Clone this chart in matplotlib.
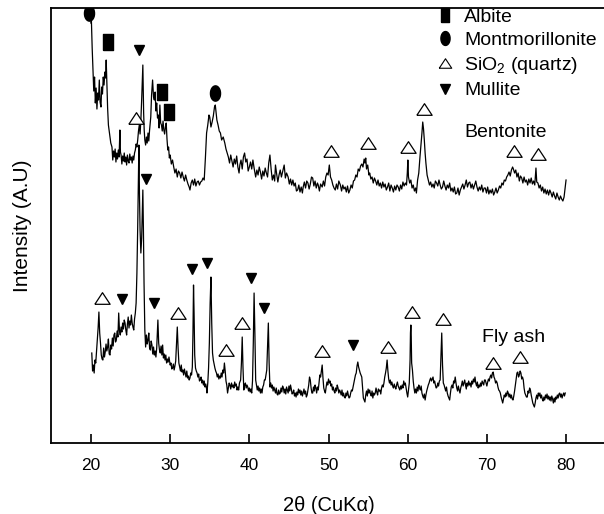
import numpy as np
import matplotlib
matplotlib.use("Agg")
import matplotlib.pyplot as plt
from matplotlib.lines import Line2D

plt.rcParams['font.family'] = ['Liberation Sans', 'DejaVu Sans']
plt.rcParams['mathtext.fontset'] = 'custom'
plt.rcParams['mathtext.rm'] = 'Liberation Sans'
plt.rcParams['mathtext.it'] = 'Liberation Sans'

# ---- data (2theta in degrees, intensity in arbitrary units) ----
bent_2theta = [
    20.00, 20.05, 20.15, 20.25, 20.35, 20.45, 20.55, 20.65, 20.75, 20.85, 20.95, 21.05, 21.15, 21.26,
    21.35, 21.45, 21.55, 21.65, 21.75, 21.85, 21.92, 22.00, 22.10, 22.20, 22.35, 22.50, 22.65, 22.75,
    22.85, 22.95, 23.05, 23.15, 23.25, 23.35, 23.45, 23.55, 23.65, 23.72, 23.80, 23.90, 24.00, 24.10,
    24.20, 24.30, 24.40, 24.50, 24.60, 24.70, 24.80, 24.90, 25.00, 25.10, 25.20, 25.30, 25.40, 25.50,
    25.60, 25.70, 25.80, 25.90, 26.00, 26.10, 26.20, 26.30, 26.40, 26.55, 26.65, 26.72, 26.80, 26.90,
    27.00, 27.10, 27.20, 27.30, 27.40, 27.55, 27.65, 27.78, 27.90, 28.00, 28.10, 28.20, 28.30, 28.40,
    28.50, 28.60, 28.70, 28.80, 28.90, 29.00, 29.10, 29.20, 29.30, 29.40, 29.50, 29.60, 29.70, 29.80,
    29.90, 30.00, 30.15, 30.30, 30.45, 30.60, 30.75, 30.90, 31.05, 31.20, 31.35, 31.50, 31.65, 31.80,
    31.95, 32.10, 32.25, 32.40, 32.50, 32.65, 32.80, 32.95, 33.10, 33.25, 33.40, 33.55, 33.70, 33.85,
    34.00, 34.15, 34.30, 34.45, 34.60, 34.75, 34.90, 35.00, 35.15, 35.30, 35.45, 35.60, 35.70, 35.80,
    35.90, 36.05, 36.20, 36.35, 36.50, 36.70, 36.90, 37.05, 37.20, 37.35, 37.50, 37.65, 37.80, 37.95,
    38.10, 38.25, 38.40, 38.55, 38.70, 38.80, 38.95, 39.10, 39.25, 39.40, 39.55, 39.70, 39.85, 40.00,
    40.15, 40.30, 40.45, 40.60, 40.80, 40.95, 41.10, 41.25, 41.40, 41.55, 41.70, 41.85, 42.00, 42.15,
    42.30, 42.45, 42.60, 42.75, 42.90, 43.05, 43.20, 43.30, 43.45, 43.60, 43.75, 43.90, 44.05, 44.20,
    44.40, 44.55, 44.70, 44.90, 45.05, 45.20, 45.35, 45.50, 45.65, 45.80, 45.95, 46.10, 46.25, 46.40,
    46.55, 46.70, 46.80, 46.95, 47.10, 47.25, 47.40, 47.55, 47.70, 47.85, 48.00, 48.15, 48.30, 48.45,
    48.60, 48.70, 48.85, 49.00, 49.20, 49.35, 49.50, 49.65, 49.80, 49.95, 50.10, 50.25, 50.40, 50.55,
    50.70, 50.85, 51.00, 51.15, 51.30, 51.50, 51.65, 51.80, 51.95, 52.10, 52.25, 52.40, 52.55, 52.70,
    52.85, 53.00, 53.15, 53.30, 53.45, 53.60, 53.75, 53.90, 54.05, 54.20, 54.35, 54.50, 54.60, 54.70,
    54.80, 54.95, 55.10, 55.20, 55.35, 55.50, 55.65, 55.80, 55.95, 56.10, 56.25, 56.40, 56.55, 56.70,
    56.85, 57.00, 57.15, 57.30, 57.45, 57.60, 57.75, 57.90, 58.05, 58.20, 58.35, 58.50, 58.65, 58.80,
    58.95, 59.10, 59.25, 59.40, 59.55, 59.70, 59.85, 59.95, 60.02, 60.10, 60.25, 60.40, 60.55, 60.70,
    60.85, 61.00, 61.10, 61.25, 61.40, 61.55, 61.70, 61.80, 61.90, 62.00, 62.10, 62.20, 62.30, 62.45,
    62.60, 62.75, 62.90, 63.05, 63.20, 63.35, 63.50, 63.65, 63.80, 63.95, 64.10, 64.25, 64.40, 64.55,
    64.70, 64.85, 65.00, 65.15, 65.30, 65.45, 65.60, 65.75, 65.90, 66.05, 66.20, 66.35, 66.50, 66.65,
    66.80, 66.95, 67.10, 67.25, 67.40, 67.55, 67.70, 67.85, 68.00, 68.15, 68.30, 68.45, 68.60, 68.75,
    68.90, 69.05, 69.20, 69.35, 69.50, 69.65, 69.80, 69.95, 70.10, 70.25, 70.40, 70.55, 70.70, 70.85,
    71.00, 71.15, 71.30, 71.45, 71.60, 71.75, 71.90, 72.05, 72.20, 72.35, 72.50, 72.65, 72.80, 72.95,
    73.10, 73.25, 73.35, 73.50, 73.65, 73.80, 73.95, 74.10, 74.25, 74.40, 74.55, 74.70, 74.85, 75.00,
    75.15, 75.30, 75.45, 75.60, 75.75, 75.90, 76.05, 76.20, 76.30, 76.45, 76.60, 76.75, 76.90, 77.05,
    77.20, 77.35, 77.50, 77.65, 77.80, 77.95, 78.10, 78.25, 78.40, 78.55, 78.70, 78.85, 79.00, 79.15,
    79.30, 79.45, 79.60, 79.75, 79.90, 80.00]
bent_intensity = [
    420, 423, 395, 373, 352, 366, 340, 355, 334, 350, 343, 363, 341, 336,
    356, 349, 366, 358, 371, 365, 383, 363, 335, 318, 309, 300, 296, 283,
    292, 286, 294, 281, 290, 284, 293, 286, 313, 291, 288, 279, 287, 282,
    290, 281, 286, 278, 288, 282, 280, 289, 283, 286, 280, 287, 283, 290,
    293, 299, 296, 303, 312, 318, 309, 323, 343, 378, 330, 313, 303, 298,
    306, 300, 310, 302, 313, 326, 348, 363, 346, 343, 351, 332, 340, 325,
    328, 315, 338, 320, 318, 312, 322, 313, 309, 316, 320, 304, 293, 296,
    285, 288, 279, 283, 276, 270, 274, 266, 272, 270, 265, 271, 266, 262,
    268, 263, 259, 256, 253, 260, 263, 258, 264, 257, 261, 262, 258, 261,
    262, 265, 263, 285, 310, 318, 328, 326, 316, 321, 327, 336, 338, 330,
    323, 318, 312, 310, 303, 306, 300, 294, 290, 286, 280, 288, 282, 276,
    284, 279, 287, 276, 270, 278, 283, 274, 286, 290, 281, 284, 272, 276,
    281, 274, 283, 275, 266, 273, 268, 276, 271, 264, 272, 267, 275, 270,
    266, 280, 288, 274, 263, 268, 262, 278, 269, 261, 268, 273, 266, 271,
    278, 265, 270, 266, 259, 264, 258, 263, 257, 260, 252, 253, 258, 251,
    256, 250, 256, 261, 255, 262, 260, 254, 259, 266, 265, 257, 262, 255,
    260, 258, 252, 259, 256, 262, 257, 266, 270, 268, 278, 266, 263, 258,
    255, 253, 259, 254, 262, 258, 252, 258, 254, 256, 251, 257, 250, 253,
    258, 255, 262, 263, 268, 266, 274, 272, 277, 279, 276, 284, 280, 285,
    274, 278, 268, 270, 264, 266, 260, 265, 262, 258, 263, 257, 260, 255,
    261, 256, 259, 253, 256, 260, 252, 258, 255, 251, 257, 253, 258, 256,
    252, 258, 254, 261, 257, 260, 258, 270, 283, 266, 260, 263, 255, 258,
    252, 255, 250, 263, 270, 286, 300, 310, 321, 314, 303, 290, 280, 268,
    263, 258, 261, 256, 259, 255, 262, 260, 257, 263, 258, 254, 256, 262,
    257, 253, 258, 255, 260, 252, 255, 251, 256, 249, 250, 255, 248, 253,
    256, 259, 254, 258, 263, 256, 260, 261, 255, 259, 254, 258, 262, 256,
    252, 256, 253, 258, 251, 255, 255, 250, 256, 249, 253, 250, 254, 248,
    251, 255, 250, 253, 257, 255, 260, 258, 263, 262, 266, 268, 271, 267,
    273, 276, 274, 270, 273, 266, 270, 262, 267, 265, 260, 266, 261, 263,
    258, 264, 260, 265, 259, 262, 258, 275, 261, 260, 255, 258, 252, 256,
    250, 254, 249, 253, 248, 253, 250, 246, 251, 247, 244, 250, 246, 243,
    247, 244, 242, 246, 256, 263]

fly_2theta = [
    20.10, 20.20, 20.30, 20.40, 20.50, 20.60, 20.70, 20.80, 20.90, 21.00, 21.10, 21.20, 21.30, 21.40,
    21.50, 21.60, 21.70, 21.80, 21.90, 22.00, 22.10, 22.20, 22.30, 22.40, 22.50, 22.60, 22.70, 22.80,
    22.90, 23.00, 23.10, 23.20, 23.30, 23.40, 23.50, 23.60, 23.70, 23.80, 23.90, 24.00, 24.10, 24.20,
    24.30, 24.40, 24.50, 24.60, 24.70, 24.80, 24.90, 25.00, 25.10, 25.20, 25.30, 25.40, 25.50, 25.60,
    25.70, 25.80, 25.90, 26.00, 26.05, 26.12, 26.20, 26.30, 26.40, 26.50, 26.55, 26.62, 26.70, 26.80,
    26.90, 27.00, 27.10, 27.20, 27.30, 27.40, 27.50, 27.60, 27.70, 27.80, 27.90, 28.00, 28.10, 28.20,
    28.30, 28.38, 28.45, 28.55, 28.65, 28.75, 28.85, 28.95, 29.05, 29.15, 29.25, 29.35, 29.45, 29.55,
    29.65, 29.75, 29.85, 30.00, 30.10, 30.20, 30.30, 30.40, 30.50, 30.60, 30.70, 30.80, 30.90, 31.00,
    31.10, 31.20, 31.30, 31.40, 31.50, 31.60, 31.70, 31.80, 31.90, 32.00, 32.10, 32.20, 32.30, 32.40,
    32.50, 32.60, 32.70, 32.80, 32.88, 32.95, 33.02, 33.10, 33.20, 33.30, 33.40, 33.50, 33.60, 33.70,
    33.80, 33.90, 34.00, 34.10, 34.20, 34.30, 34.40, 34.50, 34.60, 34.65, 34.75, 34.85, 34.95, 35.05,
    35.15, 35.25, 35.35, 35.45, 35.55, 35.65, 35.75, 35.85, 35.95, 36.05, 36.15, 36.25, 36.35, 36.45,
    36.55, 36.65, 36.75, 36.85, 36.95, 37.05, 37.15, 37.25, 37.35, 37.45, 37.55, 37.65, 37.75, 37.85,
    37.95, 38.05, 38.15, 38.25, 38.35, 38.45, 38.55, 38.65, 38.75, 38.90, 39.00, 39.10, 39.20, 39.30,
    39.40, 39.50, 39.60, 39.70, 39.80, 39.90, 40.00, 40.10, 40.20, 40.30, 40.40, 40.50, 40.60, 40.70,
    40.80, 40.90, 41.00, 41.10, 41.20, 41.30, 41.40, 41.50, 41.60, 41.70, 41.80, 41.90, 42.00, 42.10,
    42.20, 42.30, 42.40, 42.50, 42.60, 42.70, 42.80, 42.90, 43.00, 43.10, 43.20, 43.30, 43.40, 43.50,
    43.60, 43.70, 43.80, 43.90, 44.00, 44.10, 44.20, 44.30, 44.40, 44.50, 44.60, 44.70, 44.80, 44.90,
    45.00, 45.10, 45.20, 45.30, 45.40, 45.50, 45.60, 45.70, 45.80, 45.90, 46.00, 46.10, 46.20, 46.30,
    46.40, 46.50, 46.60, 46.70, 46.80, 46.90, 47.00, 47.10, 47.20, 47.30, 47.40, 47.50, 47.60, 47.70,
    47.80, 47.90, 48.00, 48.10, 48.20, 48.30, 48.40, 48.50, 48.60, 48.70, 48.80, 48.90, 49.00, 49.10,
    49.20, 49.30, 49.40, 49.50, 49.60, 49.70, 49.80, 49.90, 50.00, 50.10, 50.20, 50.30, 50.40, 50.50,
    50.60, 50.70, 50.80, 50.90, 51.00, 51.10, 51.20, 51.30, 51.40, 51.50, 51.60, 51.70, 51.80, 51.90,
    52.00, 52.10, 52.20, 52.30, 52.40, 52.50, 52.60, 52.70, 52.80, 52.90, 53.00, 53.10, 53.20, 53.30,
    53.40, 53.50, 53.60, 53.70, 53.80, 53.90, 54.00, 54.10, 54.20, 54.30, 54.40, 54.50, 54.60, 54.70,
    54.80, 54.90, 55.00, 55.10, 55.20, 55.30, 55.40, 55.50, 55.60, 55.70, 55.80, 55.90, 56.00, 56.10,
    56.20, 56.30, 56.40, 56.50, 56.60, 56.70, 56.80, 56.90, 57.00, 57.10, 57.20, 57.30, 57.40, 57.50,
    57.60, 57.70, 57.80, 57.90, 58.00, 58.10, 58.20, 58.30, 58.40, 58.50, 58.60, 58.70, 58.80, 58.90,
    59.00, 59.10, 59.20, 59.30, 59.40, 59.50, 59.60, 59.70, 59.80, 59.90, 60.00, 60.10, 60.20, 60.30,
    60.35, 60.40, 60.45, 60.50, 60.60, 60.70, 60.80, 60.90, 61.00, 61.10, 61.20, 61.30, 61.40, 61.50,
    61.60, 61.70, 61.80, 61.90, 62.00, 62.10, 62.20, 62.30, 62.40, 62.50, 62.60, 62.70, 62.80, 62.90,
    63.00, 63.10, 63.20, 63.30, 63.40, 63.50, 63.60, 63.70, 63.80, 63.90, 64.00, 64.10, 64.20, 64.30,
    64.40, 64.50, 64.60, 64.70, 64.80, 64.90, 65.00, 65.10, 65.20, 65.30, 65.40, 65.50, 65.60, 65.70,
    65.80, 65.90, 66.00, 66.10, 66.20, 66.30, 66.40, 66.50, 66.60, 66.70, 66.80, 66.90, 67.00, 67.10,
    67.20, 67.30, 67.40, 67.50, 67.60, 67.70, 67.80, 67.90, 68.00, 68.10, 68.20, 68.30, 68.40, 68.50,
    68.60, 68.70, 68.80, 68.90, 69.00, 69.10, 69.20, 69.30, 69.40, 69.50, 69.60, 69.70, 69.80, 69.90,
    70.00, 70.10, 70.20, 70.30, 70.40, 70.50, 70.60, 70.70, 70.80, 70.90, 71.00, 71.10, 71.20, 71.30,
    71.40, 71.50, 71.60, 71.70, 71.80, 71.90, 72.00, 72.10, 72.20, 72.30, 72.40, 72.50, 72.60, 72.70,
    72.80, 72.90, 73.00, 73.10, 73.20, 73.30, 73.40, 73.50, 73.60, 73.70, 73.80, 73.90, 74.00, 74.10,
    74.20, 74.30, 74.40, 74.50, 74.60, 74.70, 74.80, 74.90, 75.00, 75.10, 75.20, 75.30, 75.40, 75.50,
    75.60, 75.70, 75.80, 75.90, 76.00, 76.10, 76.20, 76.30, 76.40, 76.50, 76.60, 76.70, 76.80, 76.90,
    77.00, 77.10, 77.20, 77.30, 77.40, 77.50, 77.60, 77.70, 77.80, 77.90, 78.00, 78.10, 78.20, 78.30,
    78.40, 78.50, 78.60, 78.70, 78.80, 78.90, 79.00, 79.10, 79.20, 79.30, 79.40, 79.50, 79.60, 79.70,
    79.80, 79.90]
fly_intensity = [
    90, 72, 78, 70, 83, 80, 92, 103, 115, 131, 110, 100, 88, 84,
    83, 95, 86, 91, 99, 92, 96, 104, 89, 88, 98, 94, 105, 97,
    108, 110, 101, 103, 112, 106, 130, 112, 108, 116, 111, 120, 114, 123,
    120, 113, 108, 119, 126, 115, 122, 118, 128, 120, 116, 113, 124, 130,
    140, 170, 216, 275, 298, 250, 213, 190, 205, 240, 253, 215, 160, 113,
    96, 108, 99, 103, 110, 95, 93, 102, 98, 89, 96, 88, 92, 86,
    95, 110, 123, 100, 93, 90, 97, 88, 98, 85, 89, 83, 88, 80,
    84, 81, 86, 78, 80, 74, 75, 79, 73, 77, 82, 100, 116, 95,
    80, 76, 72, 78, 71, 73, 68, 74, 70, 66, 72, 65, 67, 63,
    65, 70, 68, 76, 110, 158, 130, 88, 75, 72, 70, 66, 69, 62,
    63, 66, 60, 63, 58, 62, 56, 59, 54, 50, 60, 75, 100, 140,
    166, 120, 90, 83, 79, 75, 72, 70, 66, 69, 64, 67, 65, 70,
    66, 73, 70, 80, 72, 62, 58, 50, 55, 60, 58, 54, 60, 56,
    58, 55, 61, 57, 59, 53, 56, 53, 60, 63, 80, 106, 75, 53,
    58, 60, 55, 58, 56, 52, 55, 51, 54, 50, 62, 100, 150, 110,
    63, 58, 53, 57, 52, 55, 50, 54, 50, 56, 58, 63, 63, 68,
    73, 95, 120, 80, 56, 60, 55, 58, 52, 56, 53, 50, 55, 49,
    48, 53, 49, 50, 55, 51, 57, 55, 50, 54, 49, 56, 53, 50,
    57, 52, 58, 54, 49, 50, 53, 47, 50, 46, 51, 48, 54, 50,
    53, 48, 52, 47, 50, 54, 49, 52, 46, 48, 53, 58, 66, 63,
    55, 50, 50, 56, 52, 58, 55, 50, 56, 53, 60, 68, 66, 72,
    78, 65, 55, 52, 50, 56, 61, 58, 64, 60, 62, 57, 59, 53,
    56, 52, 50, 55, 52, 58, 55, 50, 53, 51, 48, 53, 47, 50,
    46, 45, 50, 47, 52, 48, 45, 46, 50, 53, 52, 56, 60, 64,
    68, 70, 77, 81, 76, 73, 70, 68, 66, 55, 45, 43, 41, 48,
    52, 47, 54, 50, 53, 49, 47, 52, 45, 50, 48, 50, 55, 51,
    48, 54, 52, 53, 49, 55, 58, 56, 60, 66, 70, 75, 83, 72,
    64, 60, 63, 58, 61, 57, 55, 59, 56, 54, 58, 61, 57, 55,
    53, 57, 54, 58, 55, 62, 58, 60, 55, 50, 46, 53, 60, 83,
    110, 118, 105, 80, 73, 62, 55, 50, 54, 50, 56, 52, 58, 55,
    53, 57, 50, 47, 45, 49, 43, 48, 52, 55, 58, 60, 63, 65,
    62, 64, 66, 60, 62, 58, 55, 56, 60, 57, 62, 63, 85, 110,
    78, 60, 58, 55, 52, 56, 50, 47, 45, 43, 50, 56, 58, 55,
    62, 60, 66, 60, 55, 52, 57, 53, 50, 55, 58, 62, 57, 60,
    63, 58, 54, 60, 57, 62, 58, 60, 56, 62, 59, 64, 61, 66,
    60, 57, 61, 55, 58, 56, 60, 57, 62, 60, 58, 63, 63, 60,
    57, 61, 64, 62, 66, 68, 65, 70, 71, 66, 64, 60, 62, 60,
    56, 53, 52, 50, 46, 43, 40, 44, 48, 46, 50, 47, 52, 50,
    46, 49, 45, 48, 44, 43, 47, 52, 58, 64, 70, 71, 66, 68,
    72, 70, 64, 66, 63, 55, 50, 48, 46, 46, 52, 50, 55, 53,
    48, 44, 40, 38, 36, 40, 45, 48, 44, 50, 47, 50, 45, 48,
    44, 42, 46, 43, 48, 45, 49, 44, 47, 43, 46, 42, 47, 44,
    40, 45, 41, 46, 44, 48, 45, 49, 50, 46, 49, 45, 48, 50,
    47, 50]

# phase markers: (2theta, height)
albite_x = [22.1, 29.0, 29.9]
albite_y = [401, 351, 331]
montm_x = [19.75, 35.7]
montm_y = [430, 350]
quartz_x = [25.7, 50.3, 55.0, 60.0, 62.1, 73.4, 76.5,
            21.4, 31.0, 37.0, 39.1, 49.2, 57.5, 60.5, 64.5, 70.8, 74.2]
quartz_y = [325, 292, 300, 296, 334, 292, 289,
            145, 130, 93, 120, 92, 96, 131, 124, 80, 86]
mullite_x = [26.1, 23.9, 26.9, 28.0, 32.8, 34.6, 40.2, 41.9, 53.1]
mullite_y = [393, 144, 264, 140, 174, 180, 165, 135, 98]

# marker shapes
rect_mk = [(-0.32, -0.5), (0.32, -0.5), (0.32, 0.5), (-0.32, 0.5), (-0.32, -0.5)]
ang = np.linspace(0, 2 * np.pi, 40)
ellipse_mk = list(zip(0.33 * np.cos(ang), 0.5 * np.sin(ang)))
tri_mk = [(-0.5, -0.38), (0.5, -0.38), (0.0, 0.38), (-0.5, -0.38)]

fig = plt.figure(figsize=(6.04, 5.14), dpi=100)
ax = fig.add_axes([0.0851, 0.1381, 0.9176, 0.8463])

ax.plot(bent_2theta, bent_intensity, color='black', lw=0.9)
ax.plot(fly_2theta, fly_intensity, color='black', lw=0.9)

ax.plot(albite_x, albite_y, ls='none', marker=rect_mk, ms=11, color='black')
ax.plot(montm_x, montm_y, ls='none', marker=ellipse_mk, ms=11, color='black')
ax.plot(quartz_x, quartz_y, ls='none', marker=tri_mk, ms=11, mfc='white', mec='black', mew=0.9)
ax.plot(mullite_x, mullite_y, ls='none', marker='v', ms=7.5, color='black')

ax.text(67.2, 311, 'Bentonite', fontsize=14, va='center', ha='left')
ax.text(69.4, 106, 'Fly ash', fontsize=14, va='center', ha='left')

handles = [
    Line2D([], [], ls='none', marker=rect_mk, ms=10, color='black'),
    Line2D([], [], ls='none', marker=ellipse_mk, ms=10, color='black'),
    Line2D([], [], ls='none', marker=tri_mk, ms=9, mfc='white', mec='black', mew=0.8),
    Line2D([], [], ls='none', marker='v', ms=7, color='black'),
]
labels = ['Albite', 'Montmorillonite', 'SiO$_2$ (quartz)', 'Mullite']
ax.legend(handles, labels, loc='upper left', bbox_to_anchor=(0.692, 1.0), frameon=False,
          fontsize=14, handlelength=1.0, handletextpad=0.5, labelspacing=0.3,
          borderpad=0, borderaxespad=0)

ax.set_xlim(15, 85)
ax.set_ylim(0, 435)
ax.set_xticks([20, 30, 40, 50, 60, 70, 80])
ax.set_yticks([])
ax.tick_params(axis='x', direction='in', length=6.5, width=1.2, labelsize=12.5, pad=11)
for side in ['left', 'bottom', 'top']:
    ax.spines[side].set_linewidth(1.3)
ax.spines['right'].set_visible(False)

ax.set_xlabel('2θ (CuKα)', fontsize=14.5, labelpad=16)
ax.set_ylabel('Intensity (A.U)', fontsize=15, labelpad=14)

fig.savefig('out.png', dpi=100)
